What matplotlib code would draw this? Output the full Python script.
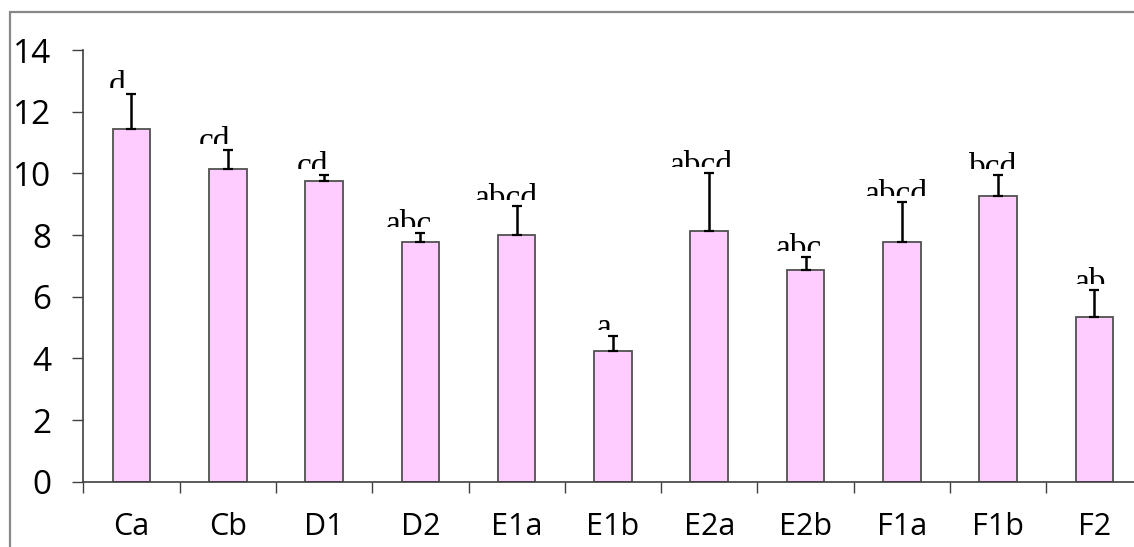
import numpy as np
import matplotlib
matplotlib.use("Agg")
import matplotlib.pyplot as plt
from matplotlib.patches import Rectangle
from matplotlib.transforms import Bbox, TransformedBbox

# data
groups = ["Ca", "Cb", "D1", "D2", "E1a", "E1b", "E2a", "E2b", "F1a", "F1b", "F2"]
means = [11.44, 10.14, 9.75, 7.78, 8.00, 4.24, 8.13, 6.86, 7.78, 9.28, 5.34]
errors = [1.14, 0.62, 0.20, 0.30, 0.94, 0.50, 1.87, 0.43, 1.29, 0.66, 0.87]
letters = ["d", "cd", "cd", "abc", "abcd", "a", "abcd", "abc", "abcd", "bcd", "ab"]

PINK = "#FFCCFF"
EDGE = "#505050"
AXCOL = "#404040"

plt.rcParams["font.family"] = ["Open Sans", "DejaVu Sans"]

fig = plt.figure(figsize=(11.34, 5.47), dpi=100)
ax = fig.add_axes([83.3 / 1134, 1 - 481.7 / 547, 1059.3 / 1134, 431.7 / 547])

x = np.arange(len(groups))
ax.bar(x, means, width=0.39, color=PINK, edgecolor=EDGE, linewidth=1.3, zorder=2)
ax.errorbar(x, means, yerr=[np.zeros(len(errors)), errors], fmt="none",
            ecolor="black", elinewidth=1.8, capsize=3.6, capthick=1.6, zorder=3)

ax.set_xlim(-0.5, len(groups) - 0.5)
ax.set_ylim(0, 14)

# significance letters, clipped at the bottom like the original
px = 14 / 431.7  # data units per pixel on y
shift = np.linspace(0.145, 0.04, len(groups))
for i, (m, e, lab) in enumerate(zip(means, errors, letters)):
    top = m + e + 23 * px
    t = ax.text(i - shift[i], top, lab, ha="center", va="top",
                fontsize=24, family="Liberation Serif", color="black", zorder=4)
    clip = TransformedBbox(Bbox([[i - 1, top - 17 * px], [i + 1, 14.5]]), ax.transData)
    t.set_clip_box(clip)
    t.set_clip_on(True)

for s in ["top", "right"]:
    ax.spines[s].set_visible(False)
for s in ["left", "bottom"]:
    ax.spines[s].set_color(AXCOL)
    ax.spines[s].set_linewidth(1.2)

ax.set_yticks(np.arange(0, 15, 2))
ax.tick_params(axis="y", direction="out", length=8, width=1.0, color=AXCOL,
               labelsize=24, pad=15, labelcolor="black")

ax.set_xticks(np.arange(-0.5, len(groups), 1.0))
ax.set_xticklabels([])
ax.set_xticks(x, minor=True)
ax.set_xticklabels(groups, minor=True)
ax.tick_params(axis="x", which="major", direction="out", length=8, width=1.0, color=AXCOL)
ax.tick_params(axis="x", which="minor", length=0, labelsize=22, pad=22, labelcolor="black")

# grey chart-area frame (open on the right and bottom, as in the crop)
fig.patches.append(Rectangle((10 / 1134, -0.1), 1.2, 1 - 12 / 547 + 0.1,
                             transform=fig.transFigure, fill=False,
                             edgecolor="#888888", linewidth=1.6, zorder=0))

fig.savefig("out.png", dpi=100)
